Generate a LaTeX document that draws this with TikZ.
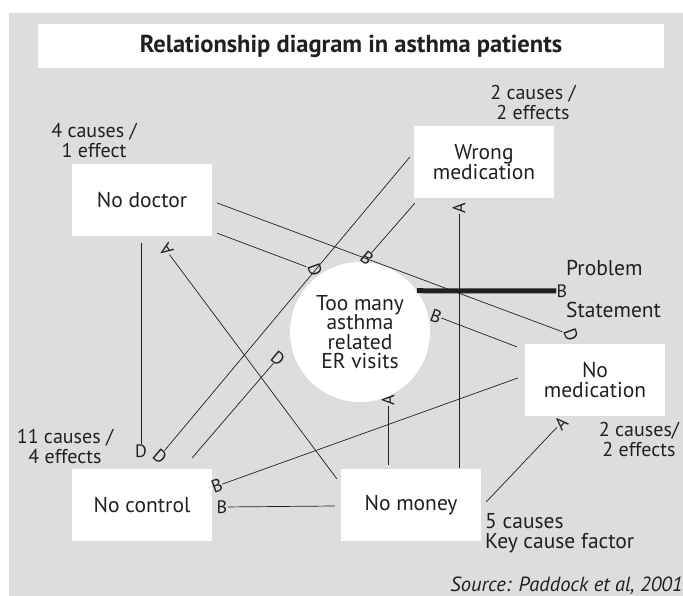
\documentclass[tikz,border=0pt]{standalone}
\usepackage{fontspec}
\setmainfont{PT Sans}
\definecolor{bggray}{RGB}{220,221,223}
\definecolor{ink}{RGB}{35,31,32}

\begin{document}
\begin{tikzpicture}[x=1pt, y=-1pt,
    box/.style={fill=white, text=ink, align=center, minimum width=140pt,
                minimum height=72pt, inner sep=0pt, font=\fontsize{21.5}{19.5}\selectfont},
    note/.style={text=ink, align=center, inner sep=0pt, font=\fontsize{20}{20}\selectfont},
    bignote/.style={note, font=\fontsize{21.5}{20}\selectfont},
    tip/.style={text=ink, inner sep=0.3pt, font=\fontsize{18}{18}\selectfont},
    link/.style={draw=ink, line width=0.7pt},
  ]
    \useasboundingbox (0,0) rectangle (683,596);
    \fill[bggray] (9,13) rectangle (683,596);

    % Title ------------------------------------------------------------------
    \node[fill=white, text=ink, minimum width=626pt, minimum height=44pt,
          font=\bfseries\fontsize{24.5}{24.5}\selectfont] (title) at (351,46)
          {Relationship diagram in asthma patients};

    % Factors ----------------------------------------------------------------
    \node[box] (doctor)  at (142,200) {No doctor};
    \node[box] (wrong)   at (484,162) {Wrong\\medication};
    \node[box] (control) at (142,505) {No control};
    \node[box] (money)   at (411,505) {No money};
    \node[box] (nomed)   at (595,380) {No\\medication};
    \node[circle, fill=white, text=ink, minimum size=140pt, inner sep=0pt, align=center,
          font=\fontsize{21.5}{19.5}\selectfont] (visits) at (360,332)
          {Too many\\asthma\\related\\ER visits};

    % Counts -----------------------------------------------------------------
    \node[note] (nWrong)   at (533,103) {2 causes /\\2 effects};
    \node[note] (nDoctor)  at (94,141)  {4 causes /\\1 effect};
    \node[note] (nControl) at (65,446)  {11 causes /\\4 effects};
    \node[note] (nNomed)   at (639,439) {2 causes/\\2 effects};
    \node[bignote, align=left, anchor=west] (nMoney) at (485,533) {5 causes\\Key cause factor};
    \node[bignote, anchor=west] (problem)   at (566,268) {Problem};
    \node[bignote, anchor=west] (statement) at (566,310) {Statement};
    \node[note, anchor=east, font=\itshape\fontsize{20.5}{20}\selectfont] (source) at (683,586)
          {Source: Paddock et al, 2001};

    % Arrow letters ----------------------------------------------------------
    \node[tip, rotate=-70]  (tDocMed)    at (571,335) {D};
    \node[tip, rotate=-70]  (tDocVis)    at (315,270) {D};
    \node[tip]              (tDocCtl)    at (141,451) {D};
    \node[tip, rotate=-40]  (tWroCtl)    at (160,456) {D};
    \node[tip, rotate=125]  (tMonDoc)    at (166,250) {A};
    \node[tip, rotate=-40]  (tCtlVis)    at (278,358) {D};
    \node[tip, rotate=20]   (tMedCtl)    at (217,486) {B};
    \node[tip]              (tMonCtl)    at (222,507) {B};
    \node[tip, rotate=90]   (tMonVis)    at (388,400) {A};
    \node[tip, rotate=90]   (tMonWro)    at (459,208) {A};
    \node[tip, rotate=45]   (tMonMed)    at (561,423) {A};
    \node[tip, rotate=-20]  (tMedVis)    at (436,316) {B};
    \node[tip, rotate=-40]  (tWroVis)    at (367,258) {B};
    \node[tip]              (tProblem)   at (562,291) {B};

    % Start points -----------------------------------------------------------
    \coordinate (sDocA) at ([shift={(5,3)}]doctor.east);
    \coordinate (sDocB) at ([shift={(5,-3)}]doctor.south east);
    \coordinate (sDocC) at ([shift={(-1,7)}]doctor.south);
    \coordinate (sMonA) at ([shift={(-4,10)}]money.north west);
    \coordinate (sWroA) at ([shift={(-4,-5)}]wrong.west);
    \coordinate (sCtlA) at ([shift={(-20,-11)}]control.north east);
    \coordinate (sMedA) at ([shift={(-7,-2)}]nomed.west);
    \coordinate (sMonB) at ([shift={(-6,1)}]money.west);
    \coordinate (sMonC) at ([shift={(-23,-4)}]money.north);
    \coordinate (sMonD) at ([shift={(48,-1)}]money.north);
    \coordinate (sMonE) at ([shift={(5,-3)}]money.east);
    \coordinate (sMedB) at ([shift={(-8,3)}]nomed.north west);
    \coordinate (sWroB) at ([shift={(1,5)}]wrong.south west);

    % Links ------------------------------------------------------------------
    \draw[link] (sDocA) -- (tDocMed);
    \draw[link] (sDocB) -- (tDocVis);
    \draw[link] (sDocC) -- (tDocCtl.north);
    \draw[link] (sMonA) -- (tMonDoc);
    \draw[link] (sWroA) -- (tWroCtl);
    \draw[link] (sCtlA) -- (tCtlVis);
    \draw[link] (sMedA) -- (tMedCtl);
    \draw[link] (sMonB) -- (tMonCtl);
    \draw[link] (sMonC) -- (tMonVis);
    \draw[link] (sMonD) -- (tMonWro);
    \draw[link] (sMonE) -- (tMonMed);
    \draw[link] (sMedB) -- (tMedVis);
    \draw[link] (sWroB) -- (tWroVis);
    \draw[draw=ink, line width=5pt] (visits.36) -- (tProblem);
\end{tikzpicture}
\end{document}
